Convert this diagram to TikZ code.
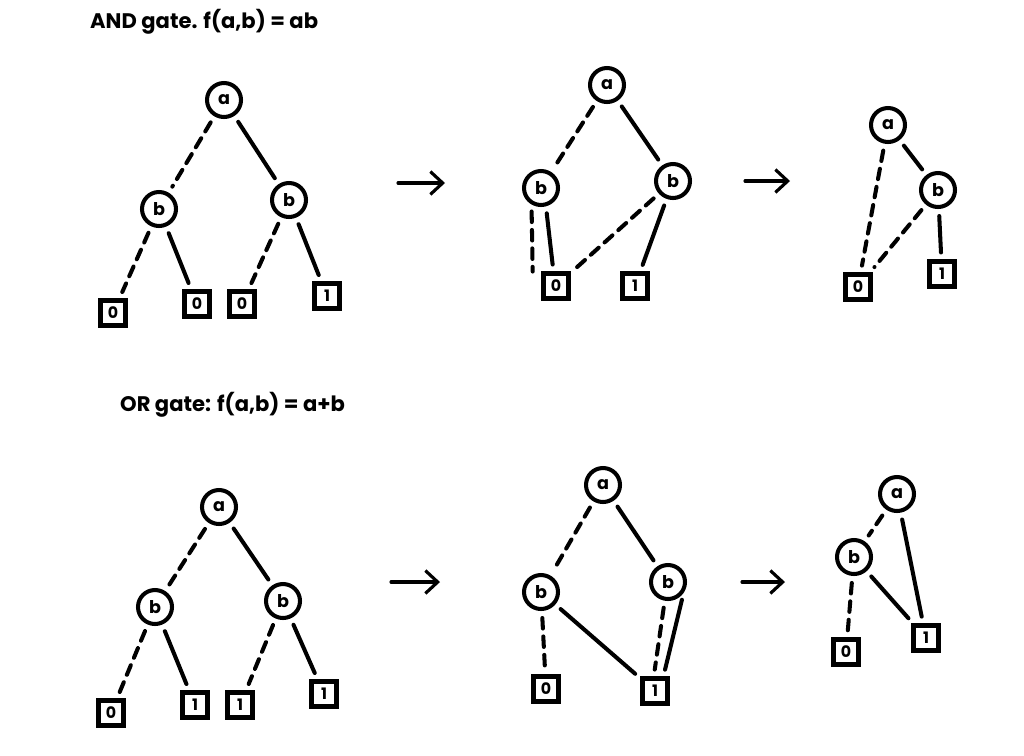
\documentclass[tikz,border=0pt]{standalone}
\usepackage{fontspec}
\setmainfont{Poppins}
\usetikzlibrary{arrows.meta}
\tikzset{
  var/.style={circle, draw, line width=2.3pt, minimum size=0.68cm, inner sep=0pt, font=\bfseries},
  leaf/.style={rectangle, draw, line width=2.3pt, minimum size=0.5cm, inner sep=0pt, font=\bfseries\small},
  lo/.style={line width=2.3pt, dash pattern=on 6pt off 4.5pt, shorten <=4pt, shorten >=4pt},
  hi/.style={line width=2.3pt, shorten <=4pt, shorten >=4pt},
  step arrow/.style={line width=1.8pt, -{Straight Barb[length=7pt, width=13pt]}},
  title/.style={anchor=west, font=\large\bfseries}
}
\begin{document}
\begin{tikzpicture}[x=0.02cm, y=-0.02cm, line cap=round]
  \useasboundingbox (0,0) rectangle (1024,755);
  %%%%% AND %%%%%
  \node[title] (andtitle) at (84,22) {AND gate. f(a,b) = ab};

  \node[var] (a1) at (224,100) {a};
  \node[var] (b1l) at (159,209) {b};
  \node[var] (b1r) at (289,200) {b};
  \node[leaf] (z1a) at (113,313) {0};
  \node[leaf] (z1b) at (197,304) {0};
  \node[leaf] (z1c) at (242,304) {0};
  \node[leaf] (o1) at (327,296) {1};
  \draw[lo] (a1) -- (b1l);
  \draw[hi] (a1) -- (b1r);
  \draw[lo] (b1l) -- (z1a);
  \draw[hi] (b1l) -- (z1b);
  \draw[lo] (b1r) -- (z1c);
  \draw[hi] (b1r) -- (o1);

  \coordinate (s1) at (398,183);
  \coordinate (e1) at (445,183);
  \draw[step arrow] (s1) -- (e1);

  \node[var] (a2) at (607,85) {a};
  \node[var] (b2l) at (541,188) {b};
  \node[var] (b2r) at (673,181) {b};
  \node[leaf] (z2) at (556,286) {0};
  \node[leaf] (o2) at (635,286) {1};
  \draw[lo] (a2) -- (b2l);
  \draw[hi] (a2) -- (b2r);
  \draw[lo, shorten >=0pt] (b2l.-120) -- ([xshift=-5pt]z2.north west);
  \draw[hi] (b2l.-75) -- (z2.100);
  \draw[lo] (b2r) -- (z2);
  \draw[hi] (b2r) -- (o2);

  \coordinate (s2) at (745,181);
  \coordinate (e2) at (790,181);
  \draw[step arrow] (s2) -- (e2);

  \node[var] (a3) at (888,125) {a};
  \node[var] (b3) at (938,190) {b};
  \node[leaf] (z3) at (858,287) {0};
  \node[leaf] (o3) at (942,274) {1};
  \draw[lo] (a3) -- (z3);
  \draw[hi] (a3) -- (b3);
  \draw[lo] (b3) -- (z3);
  \draw[hi] (b3) -- (o3);

  %%%%% OR %%%%%
  \node[title] (ortitle) at (114,405) {OR gate: f(a,b) = a+b};

  \node[var] (a4) at (219,507) {a};
  \node[var] (b4l) at (155,607) {b};
  \node[var] (b4r) at (283,601) {b};
  \node[leaf] (z4) at (111,713) {0};
  \node[leaf] (o4a) at (195,705) {1};
  \node[leaf] (o4b) at (240,705) {1};
  \node[leaf] (o4c) at (324,694) {1};
  \draw[lo] (a4) -- (b4l);
  \draw[hi] (a4) -- (b4r);
  \draw[lo] (b4l) -- (z4);
  \draw[hi] (b4l) -- (o4a);
  \draw[lo] (b4r) -- (o4b);
  \draw[hi] (b4r) -- (o4c);

  \coordinate (s4) at (391,582);
  \coordinate (e4) at (440,582);
  \draw[step arrow] (s4) -- (e4);

  \node[var] (a5) at (603,485) {a};
  \node[var] (b5l) at (541,592) {b};
  \node[var] (b5r) at (668,582) {b};
  \node[leaf] (z5) at (546,689) {0};
  \node[leaf] (o5) at (655,691) {1};
  \draw[lo] (a5) -- (b5l);
  \draw[hi] (a5) -- (b5r);
  \draw[lo] (b5l) -- (z5);
  \draw[hi] (b5l) -- (o5);
  \draw[lo] (b5r.-100) -- (o5.95);
  \draw[hi] (b5r.-35) -- (o5.60);

  \coordinate (s5) at (742,582);
  \coordinate (e5) at (785,582);
  \draw[step arrow] (s5) -- (e5);

  \node[var] (a6) at (897,494) {a};
  \node[var] (b6) at (854,557) {b};
  \node[leaf] (z6) at (846,652) {0};
  \node[leaf] (o6) at (926,638) {1};
  \draw[lo] (a6) -- (b6);
  \draw[hi] (a6) -- (o6);
  \draw[lo] (b6) -- (z6);
  \draw[hi] (b6) -- (o6);
\end{tikzpicture}
\end{document}
